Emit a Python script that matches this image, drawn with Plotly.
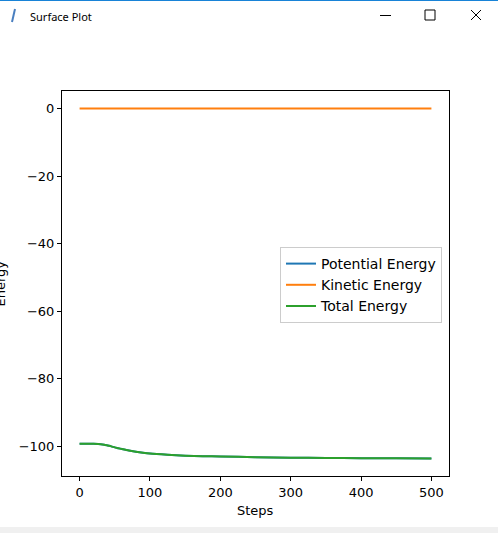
import plotly.graph_objects as go

# simulation output
steps = [0, 10, 20, 30, 35, 40, 45, 50, 55, 60, 70, 80, 90, 100, 125, 150, 175, 200,
         250, 300, 350, 400, 450, 500]
total_energy = [-99.3, -99.3, -99.35, -99.45, -99.6, -99.85, -100.1, -100.4, -100.65,
                -100.9, -101.35, -101.7, -102.0, -102.25, -102.6, -102.85, -103.0, -103.1,
                -103.3, -103.45, -103.55, -103.6, -103.65, -103.7]
kinetic_energy = [0.0] * len(steps)
potential_energy = [t - k for t, k in zip(total_energy, kinetic_energy)]

W, H = 498, 533
L, R, T, B = 62, 449, 91, 476  # axes box in pixels


def px2x(px):
    return (px - L) / (R - L)


def px2y(py):
    return (B - py) / (B - T)


fig = go.Figure()
fig.add_trace(go.Scatter(x=steps, y=potential_energy, mode='lines', name='Potential Energy',
                         line=dict(color='#1f77b4', width=2, shape='spline', smoothing=0.6)))
fig.add_trace(go.Scatter(x=steps, y=kinetic_energy, mode='lines', name='Kinetic Energy',
                         line=dict(color='#ff7f0e', width=2)))
fig.add_trace(go.Scatter(x=steps, y=total_energy, mode='lines', name='Total Energy',
                         line=dict(color='#2ca02c', width=2, shape='spline', smoothing=0.6)))

# matplotlib style 5% margins
allv = potential_energy + kinetic_energy + total_energy
ylo, yhi = min(allv), max(allv)
ypad = (yhi - ylo) * 0.05
xpad = (max(steps) - min(steps)) * 0.05

axis_style = dict(showgrid=False, zeroline=False, showline=True, linecolor='black', linewidth=1,
                  mirror=True, ticks='outside', ticklen=4, tickcolor='black',
                  tickfont=dict(family='DejaVu Sans', size=13, color='black'))

fig.update_xaxes(range=[min(steps) - xpad, max(steps) + xpad], tickvals=[0, 100, 200, 300, 400, 500],
                 **axis_style)
fig.update_yaxes(range=[ylo - ypad, yhi + ypad], tickvals=[0, -20, -40, -60, -80, -100],
                 **axis_style)

shapes = [
    # window chrome
    dict(type='line', xref='paper', yref='paper', x0=px2x(0), x1=px2x(W), y0=px2y(0.5), y1=px2y(0.5),
         line=dict(color='#1883d7', width=1)),
    dict(type='line', xref='paper', yref='paper', x0=px2x(380), x1=px2x(391), y0=px2y(15.5), y1=px2y(15.5),
         line=dict(color='black', width=1)),
    dict(type='rect', xref='paper', yref='paper', x0=px2x(425), x1=px2x(435), y0=px2y(10), y1=px2y(20),
         line=dict(color='black', width=1)),
    dict(type='line', xref='paper', yref='paper', x0=px2x(471), x1=px2x(481), y0=px2y(10), y1=px2y(20),
         line=dict(color='black', width=1)),
    dict(type='line', xref='paper', yref='paper', x0=px2x(471), x1=px2x(481), y0=px2y(20), y1=px2y(10),
         line=dict(color='black', width=1)),
    dict(type='line', xref='paper', yref='paper', x0=px2x(15), x1=px2x(12), y0=px2y(9), y1=px2y(22),
         line=dict(color='#4a7fc0', width=2)),
    dict(type='rect', xref='paper', yref='paper', x0=px2x(0), x1=px2x(W), y0=px2y(527), y1=px2y(H),
         line=dict(width=0), fillcolor='#f0f0f0', layer='below'),
]

annotations = [
    dict(text='Surface Plot', xref='paper', yref='paper', x=px2x(28), y=px2y(16), xanchor='left',
         yanchor='middle', showarrow=False, font=dict(family='Noto Sans', size=11, color='black')),
    dict(text='Steps', xref='paper', yref='paper', x=0.5, y=px2y(511), xanchor='center',
         yanchor='middle', showarrow=False, font=dict(family='DejaVu Sans', size=13, color='black')),
    dict(text='Energy', xref='paper', yref='paper', x=px2x(0), y=0.5, xanchor='center',
         yanchor='middle', textangle=-90, showarrow=False,
         font=dict(family='DejaVu Sans', size=13, color='black')),
]

fig.update_layout(
    width=W, height=H,
    margin=dict(l=L, r=W - R, t=T, b=H - B, pad=0),
    paper_bgcolor='white', plot_bgcolor='white',
    showlegend=True,
    legend=dict(x=px2x(442), y=px2y(247), xanchor='right', yanchor='top',
                bgcolor='rgba(255,255,255,0.8)', bordercolor='#cccccc', borderwidth=1,
                font=dict(family='DejaVu Sans', size=14, color='black'),
                itemwidth=30, tracegroupgap=0),
    shapes=shapes,
    annotations=annotations,
)

# drop the browser's default 8px body margin so pixels line up with the window
fig.write_html("out.html", config={'displayModeBar': False},
               post_script="document.body.style.margin='0';")
